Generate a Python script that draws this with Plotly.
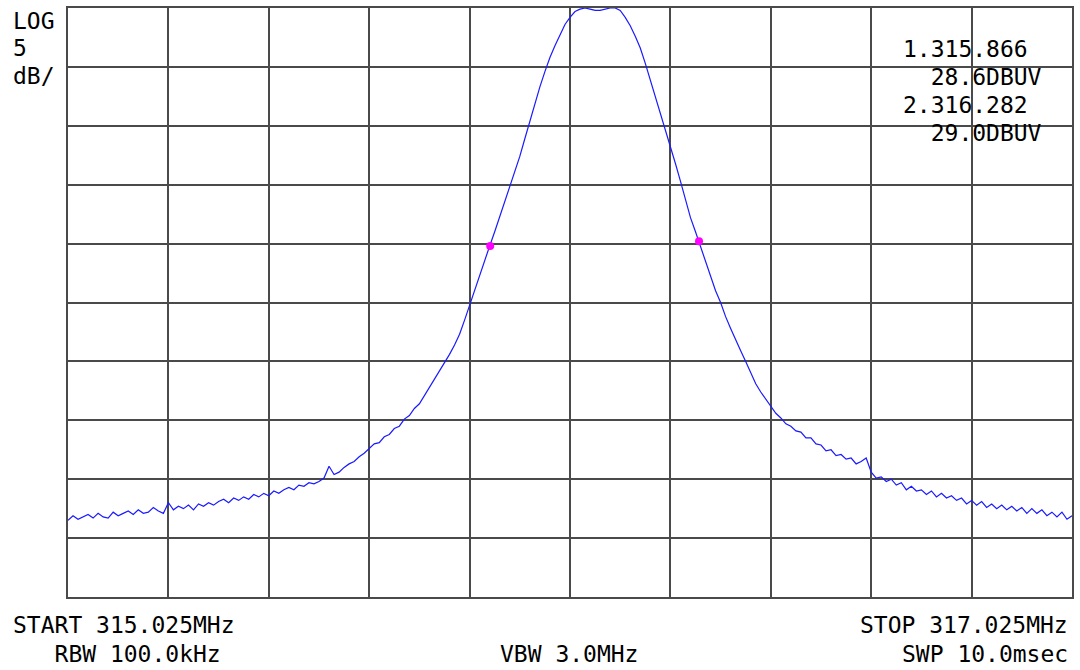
import numpy as np
import plotly.graph_objects as go

START_MHZ = 315.025
STOP_MHZ = 317.025
REF_LEVEL = 48.8      # dBuV at top graticule line
DB_PER_DIV = 5
N_DIV = 10

level_dbuv = [
    5.3, 5.7, 5.4, 5.6, 5.8, 5.5, 5.9, 5.6, 5.5, 6.0,
    5.7, 5.9, 6.1, 5.8, 6.2, 5.9, 6.0, 6.4, 6.1, 5.9,
    6.8, 6.2, 6.5, 6.3, 6.6, 6.2, 6.7, 6.5, 6.8, 6.6,
    6.9, 7.1, 6.8, 7.2, 7.0, 7.3, 7.1, 7.5, 7.3, 7.6,
    7.4, 7.8, 7.6, 7.9, 8.1, 7.9, 8.3, 8.2, 8.5, 8.4,
    8.6, 8.9, 9.9, 9.2, 9.4, 9.8, 10.1, 10.3, 10.7, 11.0,
    11.4, 11.8, 11.9, 12.4, 12.6, 13.1, 13.3, 13.9, 14.2, 14.8,
    15.2, 15.9, 16.6, 17.2, 17.9, 18.6, 19.4, 20.2, 21.1, 22.3,
    23.6, 24.8, 26.0, 27.3, 28.6, 29.8, 31.1, 32.3, 33.5, 34.8,
    36.2, 37.7, 39.2, 40.7, 42.1, 43.4, 44.6, 45.6, 46.5, 47.4,
    48.0, 48.5, 48.7, 48.8, 48.7, 48.6, 48.6, 48.7, 48.8, 48.8,
    48.6, 48.0, 47.3, 46.4, 45.4, 44.1, 42.7, 41.4, 40.0, 38.5,
    37.0, 35.6, 34.1, 32.6, 31.0, 29.8, 28.5, 27.2, 25.9, 24.8,
    23.8, 22.6, 21.6, 20.6, 19.7, 18.8, 17.8, 16.9, 16.2, 15.6,
    15.1, 14.4, 14.0, 13.5, 13.3, 12.9, 12.8, 12.3, 12.3, 11.8,
    11.7, 11.2, 11.3, 10.8, 10.9, 10.5, 10.6, 10.1, 10.3, 10.6,
    9.4, 8.9, 9.0, 8.6, 8.8, 8.3, 8.5, 7.9, 8.2, 7.8,
    7.9, 7.5, 7.8, 7.3, 7.6, 7.2, 7.4, 7.0, 7.2, 6.7,
    7.0, 6.6, 6.9, 6.4, 6.7, 6.3, 6.6, 6.2, 6.5, 6.1,
    6.4, 5.9, 6.3, 5.9, 6.2, 5.7, 6.0, 5.6, 6.0, 5.4,
    5.7,
]

marker_freq_mhz = [315.866, 316.282]
marker_level_dbuv = [28.6, 29.0]

scale_lines = ["LOG", "5", "dB/"]
marker_lines = ["1.315.866", "  28.6DBUV", "2.316.282", "  29.0DBUV"]
footer_left = ["START 315.025MHz", "   RBW 100.0kHz"]
footer_mid = "VBW 3.0MHz"
footer_right = ["STOP 317.025MHz", "SWP 10.0msec"]

freq_mhz = np.linspace(START_MHZ, STOP_MHZ, len(level_dbuv))

# ---- layout geometry (pixels) ----
W, H = 1080, 670
L, R, T, B = 68, 1074, 6, 597
PW, PH = R - L, B - T

def px(x):
    return (x - L) / PW

def py(y):
    return (B - y) / PH

FONT = "DejaVu Sans Mono"
FS = 23

fig = go.Figure()
fig.add_trace(go.Scatter(
    x=freq_mhz, y=level_dbuv, mode="lines",
    line=dict(color="#1a1aff", width=1.2), hoverinfo="skip", showlegend=False,
))
fig.add_trace(go.Scatter(
    x=marker_freq_mhz, y=marker_level_dbuv, mode="markers",
    marker=dict(color="#ff00ff", size=8), showlegend=False,
))

annotations = []
def txt(s, x, y, anchor="left"):
    annotations.append(dict(
        text=s.replace(" ", "&nbsp;"), x=px(x), y=py(y), xref="paper", yref="paper",
        xanchor=anchor, yanchor="middle", showarrow=False,
        font=dict(family=FONT, size=FS, color="black"),
    ))

for i, s in enumerate(scale_lines):
    txt(s, 11, 19 + i * 27.5)
for i, s in enumerate(marker_lines):
    txt(s, 903, 47 + i * 28)
txt(footer_left[0], 11, 625)
txt(footer_left[1], 11, 654)
txt(footer_mid, 499, 654)
txt(footer_right[0], 1072, 625, "right")
txt(footer_right[1], 1072, 654, "right")

grid = "#4a4a4a"
fig.update_layout(
    width=W, height=H,
    margin=dict(l=L, r=W - R, t=T, b=H - B, pad=0),
    paper_bgcolor="white", plot_bgcolor="white",
    annotations=annotations,
    xaxis=dict(range=[START_MHZ, STOP_MHZ], tick0=START_MHZ, dtick=(STOP_MHZ - START_MHZ) / N_DIV,
               showgrid=True, gridcolor=grid, gridwidth=1.6, showticklabels=False, ticks="",
               zeroline=False, showline=True, linecolor=grid, linewidth=2, mirror=True),
    yaxis=dict(range=[REF_LEVEL - DB_PER_DIV * N_DIV, REF_LEVEL], tick0=REF_LEVEL, dtick=DB_PER_DIV,
               showgrid=True, gridcolor=grid, gridwidth=1.6, showticklabels=False, ticks="",
               zeroline=False, showline=True, linecolor=grid, linewidth=2, mirror=True),
)

fig.write_html("out.html", config={"displayModeBar": False},
               post_script="document.body.style.margin='0';document.body.style.overflow='hidden';")
